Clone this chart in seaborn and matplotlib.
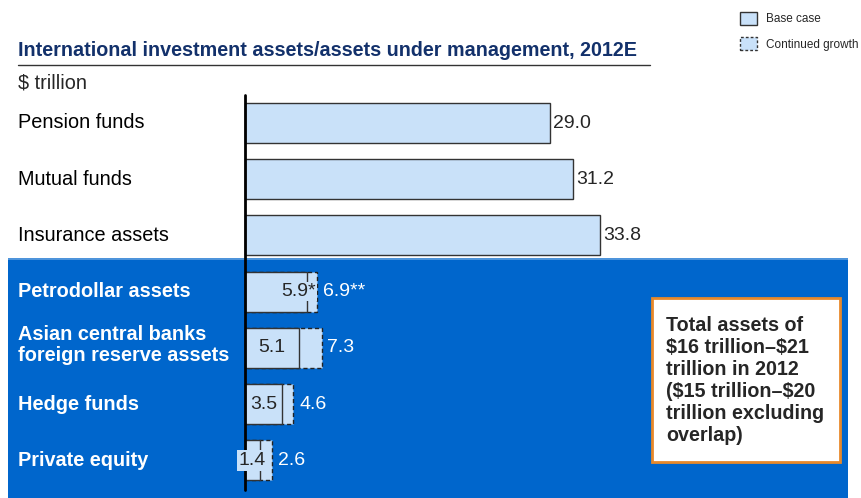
import numpy as np
import pandas as pd
import seaborn as sns
import matplotlib.pyplot as plt
import matplotlib.transforms as mtransforms
from matplotlib.patches import Rectangle, Patch
from matplotlib.lines import Line2D

categories = ["Pension funds", "Mutual funds", "Insurance assets", "Petrodollar assets",
              "Asian central banks\nforeign reserve assets", "Hedge funds", "Private equity"]
base_case = [29.0, 31.2, 33.8, 5.9, 5.1, 3.5, 1.4]
continued_growth = [np.nan, np.nan, np.nan, 6.9, 7.3, 4.6, 2.6]
base_labels = ["29.0", "31.2", "33.8", "5.9*", "5.1", "3.5", "1.4"]
growth_labels = ["", "", "", "6.9**", "7.3", "4.6", "2.6"]
note_text = ("Total assets of\n\\$16 trillion\u2013\\$21\ntrillion in 2012\n"
             "(\\$15 trillion\u2013\\$20\ntrillion excluding\noverlap)")

BAR = "#c9e1f9"
PANEL = "#0066cc"
NAVY = "#13316b"
ORANGE = "#e8892a"

sns.set_theme(style="white")
plt.rcParams['font.family'] = ['Liberation Sans', 'DejaVu Sans']

df = pd.DataFrame({"category": categories, "base": base_case, "growth": continued_growth})

W, H = 862, 498
fig = plt.figure(figsize=(W / 100, H / 100), dpi=100)
ax = fig.add_axes([0, 0, 1, 1])
ax.patch.set_visible(False)

# blue panel behind the lower group
fig.patches.append(Rectangle((8 / W, 0), 840 / W, 240 / H, transform=fig.transFigure,
                             facecolor=PANEL, edgecolor="none", zorder=-2))
fig.patches.append(Rectangle((8 / W, 238 / H), 840 / W, 2 / H, transform=fig.transFigure,
                             facecolor="#4d94db", edgecolor="none", zorder=-1))

sns.barplot(data=df, x="growth", y="category", order=categories, orient="h",
            color=BAR, saturation=1, edgecolor="#222222", linestyle=(0, (3, 2)),
            linewidth=1, width=0.71, ax=ax)
sns.barplot(data=df, x="base", y="category", order=categories, orient="h",
            color=BAR, saturation=1, edgecolor="#333333", linewidth=1,
            width=0.71, ax=ax)

row = 56.2
ax.set_xlim(-245 / 10.5, (W - 245) / 10.5)
ax.set_ylim((H - 123) / row, -123 / row)
ax.set_axis_off()

# vertical baseline
ax.plot([0, 0], [(95 - 123) / row, (490 - 123) / row], color="black", lw=2, zorder=5)

lab = mtransforms.blended_transform_factory(fig.transFigure, ax.transData)
for i, name in enumerate(categories):
    lower = i >= 3
    ax.text(18 / W, i - (0.05 if "\n" in name else 0), name, transform=lab, va="center", ha="left",
            fontsize=14.3, color="white" if lower else "black",
            fontweight="bold" if lower else "normal", linespacing=1.15)

for i in range(3):
    ax.text(base_case[i] + 0.35, i, base_labels[i], va="center", ha="left", fontsize=14)

for i in range(3, len(categories)):
    b, g = base_case[i], continued_growth[i]
    if i == 3:
        ax.text(b + 0.85, i, base_labels[i], va="center", ha="right", fontsize=14, zorder=6,
                bbox=dict(facecolor=BAR, edgecolor="none", pad=1))
    elif i == 6:
        ax.text(b / 2, i, base_labels[i], va="center", ha="center", fontsize=14, zorder=6,
                bbox=dict(facecolor=BAR, edgecolor="none", pad=1.5))
    else:
        ax.text(b / 2, i, base_labels[i], va="center", ha="center", fontsize=14)
    ax.text(g + 0.55, i, growth_labels[i], va="center", ha="left", fontsize=14, color="white")

# title and unit
fig.text(18 / W, 1 - 50 / H, "International investment assets/assets under management, 2012E",
         fontsize=14.2, fontweight="bold", color=NAVY, va="center", ha="left")
fig.add_artist(Line2D([18 / W, 650 / W], [1 - 65 / H, 1 - 65 / H], color="#333333", lw=1))
fig.text(18 / W, 1 - 83 / H, "\\$ trillion", fontsize=14.3, va="center", ha="left")

# note box
fig.patches.append(Rectangle((652 / W, 1 - 462 / H), 188 / W, 164 / H, transform=fig.transFigure,
                             facecolor="white", edgecolor=ORANGE, lw=2, zorder=3))
fig.text(666 / W, 1 - 380 / H, note_text, fontsize=14.2, fontweight="bold", va="center",
         ha="left", linespacing=1.2, zorder=4)

# legend
handles = [Patch(facecolor=BAR, edgecolor="#333333", lw=1),
           Patch(facecolor=BAR, edgecolor="#333333", lw=1, linestyle=(0, (2, 1.5)))]
fig.legend(handles, ["Base case", "Continued growth"], loc="upper left",
           bbox_to_anchor=(729 / W, 1 - 1 / H), frameon=False, fontsize=8.5,
           handlelength=1.45, handleheight=1.35, handletextpad=0.75, labelspacing=1.0)

fig.savefig("out.png", dpi=100)
